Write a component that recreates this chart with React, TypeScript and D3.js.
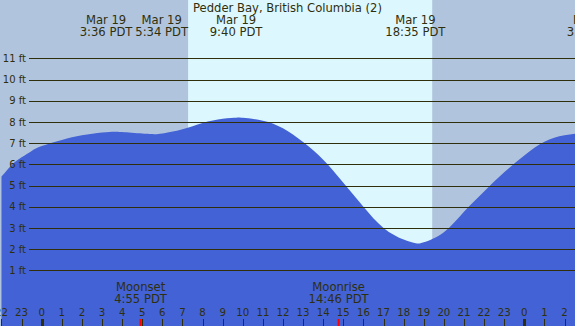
import { useEffect, useRef } from 'react';
import * as d3 from 'd3';

// tide heights (ft), hour 0 = midnight Mar 19 PDT
const tideHours = [-2, -1.5, -1, -0.5, 0, 1, 2, 3, 3.6, 4, 5, 5.57, 6, 7, 8, 9, 9.67, 10, 11, 12, 13, 14, 15, 16, 17, 18, 18.6, 19, 20, 21, 22, 23, 24, 25, 26, 27, 27.42];
const tideFeet = [5.42, 5.96, 6.33, 6.63, 6.86, 7.15, 7.37, 7.5, 7.54, 7.52, 7.45, 7.42, 7.45, 7.65, 7.95, 8.15, 8.2, 8.19, 8.06, 7.7, 7.05, 6.22, 5.13, 4.0, 3.0, 2.45, 2.28, 2.32, 2.8, 3.76, 4.72, 5.62, 6.42, 7.06, 7.37, 7.48, 7.5];

// high / low tide annotations
const extremeHours = [3.6, 5.567, 9.667, 18.583, 27.42];
const extremeDates = ['Mar 19', 'Mar 19', 'Mar 19', 'Mar 19', 'Mar 20'];
const extremeTimes = ['3:36 PDT', '5:34 PDT', '9:40 PDT', '18:35 PDT', '3:25 PDT'];

// moon events
const moonHours = [4.917, 14.767];
const moonNames = ['Moonset', 'Moonrise'];
const moonTimes = ['4:55 PDT', '14:46 PDT'];

const sunrise = 7.28;
const sunset = 19.42;

const feetTicks = [1, 2, 3, 4, 5, 6, 7, 8, 9, 10, 11];
const hourTicks = d3.range(-2, 27);

const title = 'Pedder Bay, British Columbia (2)';

const W = 575;
const H = 326;
const FONT = '"DejaVu Sans", sans-serif';
const INK = '#2f2f0c';

export default function App() {
  const svgRef = useRef<SVGSVGElement>(null);

  useEffect(() => {
    document.body.style.margin = '0';
    if (!svgRef.current) return;
    const svg = d3.select(svgRef.current);
    svg.selectAll('*').remove();

    const x = d3.scaleLinear().domain([0, 24]).range([41.7, 524.3]);
    const y = d3.scaleLinear().domain([0, 11]).range([291.5, 58.3]);

    // night / day backgrounds
    svg.append('rect').attr('x', 0).attr('y', 0).attr('width', W).attr('height', H).attr('fill', '#b0c4de');
    svg.append('rect')
      .attr('x', x(sunrise)).attr('y', 0)
      .attr('width', x(sunset) - x(sunrise)).attr('height', H)
      .attr('fill', '#ddf7ff');

    // water
    const pts = tideHours.map((h, i) => [h, tideFeet[i]] as [number, number]);
    const area = d3.area<[number, number]>()
      .x(d => x(d[0]))
      .y0(H)
      .y1(d => y(d[1]))
      .curve(d3.curveNatural);
    svg.append('path').datum(pts).attr('d', area).attr('fill', '#4262d6');

    // grid + feet labels
    svg.append('g').selectAll('line').data(feetTicks).join('line')
      .attr('x1', 29).attr('x2', W)
      .attr('y1', d => Math.round(y(d)) + 0.5).attr('y2', d => Math.round(y(d)) + 0.5)
      .attr('stroke', INK).attr('stroke-width', 1);
    svg.append('g').selectAll('text').data(feetTicks).join('text')
      .attr('x', 26).attr('y', d => y(d) + 3.6)
      .attr('text-anchor', 'end')
      .style('font-family', FONT).style('font-size', '10px').attr('fill', INK)
      .text(d => `${d} ft`);

    // title
    svg.append('text')
      .attr('x', W / 2).attr('y', 12)
      .attr('text-anchor', 'middle')
      .style('font-family', FONT).style('font-size', '11.6px').attr('fill', INK)
      .text(title);

    // tide extreme labels, pushed apart where they overlap
    const lab = svg.append('g');
    const groups = extremeHours.map((h, i) => {
      const g = lab.append('g');
      g.append('text').attr('y', 24).attr('text-anchor', 'middle')
        .style('font-family', FONT).style('font-size', '11.6px').attr('fill', INK)
        .text(extremeDates[i]);
      g.append('text').attr('y', 36).attr('text-anchor', 'middle')
        .style('font-family', FONT).style('font-size', '11.6px').attr('fill', INK)
        .text(extremeTimes[i]);
      const w = (g.node() as SVGGElement).getBBox().width;
      return { g, cx: x(h), w };
    });
    for (let iter = 0; iter < 20; iter++) {
      for (let i = 0; i < groups.length - 1; i++) {
        const a = groups[i], b = groups[i + 1];
        const need = (a.w + b.w) / 2 + 2;
        const gap = b.cx - a.cx;
        if (gap < need) {
          const push = (need - gap) / 2;
          a.cx -= push;
          b.cx += push;
        }
      }
    }
    groups.forEach(d => d.g.attr('transform', `translate(${d.cx},0)`));

    // moon labels
    moonHours.forEach((h, i) => {
      svg.append('text').attr('x', x(h)).attr('y', 291).attr('text-anchor', 'middle')
        .style('font-family', FONT).style('font-size', '11.6px').attr('fill', INK)
        .text(moonNames[i]);
      svg.append('text').attr('x', x(h)).attr('y', 303).attr('text-anchor', 'middle')
        .style('font-family', FONT).style('font-size', '11.6px').attr('fill', INK)
        .text(moonTimes[i]);
    });

    // hour labels + ticks
    svg.append('g').selectAll('text').data(hourTicks).join('text')
      .attr('x', d => x(d)).attr('y', 316)
      .attr('text-anchor', 'middle')
      .style('font-family', FONT).style('font-size', '10.2px').attr('fill', INK)
      .text(d => `${((d % 24) + 24) % 24}`);
    svg.append('g').selectAll('line').data(hourTicks).join('line')
      .attr('x1', d => Math.round(x(d)) + 0.5).attr('x2', d => Math.round(x(d)) + 0.5)
      .attr('y1', 319).attr('y2', H)
      .attr('stroke', INK)
      .attr('stroke-width', d => (d % 24 === 0 ? 3 : 1));
    svg.append('g').selectAll('line').data(moonHours).join('line')
      .attr('x1', d => x(d)).attr('x2', d => x(d))
      .attr('y1', 319).attr('y2', H)
      .attr('stroke', '#ff0000').attr('stroke-width', 2);
  }, []);

  return <svg ref={svgRef} width={W} height={H} style={{ display: 'block' }} />;
}
